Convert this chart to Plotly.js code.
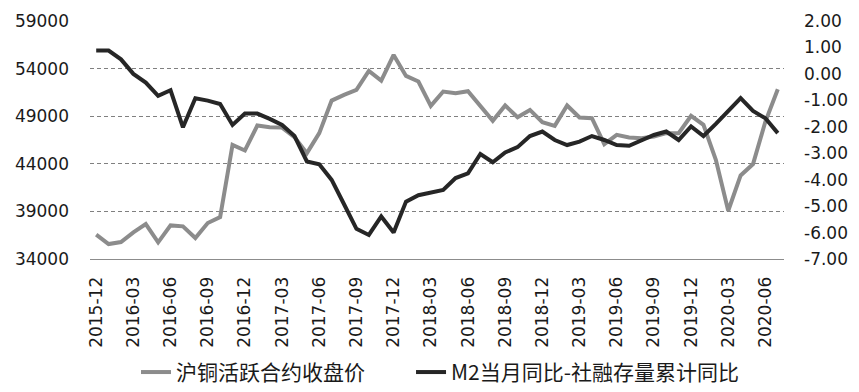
<!DOCTYPE html>
<html>
<head>
<meta charset="utf-8">
<script src="https://cdn.plot.ly/plotly-3.0.1.min.js"></script>
<style>html,body{margin:0;padding:0;background:#fff;}#chart{width:859px;height:392px;}</style>
</head>
<body>
<div id="chart"></div>
<script>
const months = [
  "2015-12",
  "2016-01","2016-02","2016-03","2016-04","2016-05","2016-06","2016-07","2016-08","2016-09","2016-10","2016-11","2016-12",
  "2017-01","2017-02","2017-03","2017-04","2017-05","2017-06","2017-07","2017-08","2017-09","2017-10","2017-11","2017-12",
  "2018-01","2018-02","2018-03","2018-04","2018-05","2018-06","2018-07","2018-08","2018-09","2018-10","2018-11","2018-12",
  "2019-01","2019-02","2019-03","2019-04","2019-05","2019-06","2019-07","2019-08","2019-09","2019-10","2019-11","2019-12",
  "2020-01","2020-02","2020-03","2020-04","2020-05","2020-06","2020-07"
];
const copperClose = [
  36550,35570,35780,36800,37670,35750,37530,37430,36200,37780,38400,45990,45400,
  48020,47850,47800,46800,45120,47220,50640,51240,51760,53760,52740,55430,
  53230,52640,50080,51590,51410,51620,50010,48510,50120,48900,49660,48370,
  47990,50120,48860,48790,46060,47040,46760,46690,46870,47220,47220,49040,
  48090,44420,39070,42780,43970,48440,51830
];
const m2MinusTsf = [
  0.88,0.88,0.55,0.00,-0.33,-0.83,-0.62,-2.02,-0.92,-1.01,-1.14,-1.93,-1.50,
  -1.50,-1.70,-1.93,-2.35,-3.31,-3.42,-4.01,-4.93,-5.86,-6.09,-5.39,-6.00,
  -4.83,-4.59,-4.50,-4.39,-3.94,-3.76,-3.03,-3.34,-2.97,-2.77,-2.35,-2.18,
  -2.50,-2.69,-2.56,-2.35,-2.50,-2.69,-2.72,-2.52,-2.31,-2.18,-2.50,-1.99,
  -2.35,-1.89,-1.43,-0.92,-1.40,-1.68,-2.24
];
const xTickLabels = ["2015-12","2016-03","2016-06","2016-09","2016-12","2017-03","2017-06","2017-09","2017-12",
  "2018-03","2018-06","2018-09","2018-12","2019-03","2019-06","2019-09","2019-12","2020-03","2020-06"];
const leftTicks = [34000,39000,44000,49000,54000,59000];
const rightTicks = [-7,-6,-5,-4,-3,-2,-1,0,1,2];
const rightTickText = ["-7.00","-6.00","-5.00","-4.00","-3.00","-2.00","-1.00","0.00","1.00","2.00"];
const seriesNames = ["沪铜活跃合约收盘价","M2当月同比-社融存量累计同比"];

const n = months.length;
const boundaryTicks = xTickLabels.map(l => months.indexOf(l) - 0.5);

const traces = [
  {x: months, y: copperClose, type: 'scatter', mode: 'lines', name: seriesNames[0], legend: 'legend',
   line: {color: '#8c8c8c', width: 4}, xaxis: 'x', yaxis: 'y'},
  {x: months, y: m2MinusTsf, type: 'scatter', mode: 'lines', name: seriesNames[1], legend: 'legend2',
   line: {color: '#262626', width: 4}, xaxis: 'x', yaxis: 'y2'}
];

const tickFont = {family: 'DejaVu Sans', size: 17, color: '#1a1a1a'};
const legendFont = {family: 'Noto Sans CJK SC', size: 21, color: '#1a1a1a'};

const layout = {
  width: 859, height: 392,
  margin: {l: 90, r: 75, t: 21, b: 133, pad: 0},
  paper_bgcolor: '#ffffff', plot_bgcolor: '#ffffff',
  font: tickFont,
  showlegend: true,
  legend: {orientation: 'h', xref: 'container', yref: 'container', x: 0.1583, xanchor: 'left',
           y: 0.05, yanchor: 'middle', font: legendFont, bgcolor: 'rgba(0,0,0,0)'},
  legend2: {orientation: 'h', xref: 'container', yref: 'container', x: 0.4785, xanchor: 'left',
           y: 0.05, yanchor: 'middle', font: legendFont, bgcolor: 'rgba(0,0,0,0)'},
  xaxis: {type: 'category', range: [-0.5, n - 0.5], tickmode: 'array', tickvals: xTickLabels, ticktext: xTickLabels,
          tickangle: -90, ticks: '', showgrid: false, showline: true, linecolor: '#8c8c8c', linewidth: 1,
          zeroline: false, ticklabelstandoff: 10, tickfont: tickFont},
  xaxis2: {overlaying: 'x', anchor: 'y', type: 'linear', range: [-0.5, n - 0.5], tickmode: 'array',
           tickvals: boundaryTicks, ticks: 'outside', ticklen: 6, tickcolor: '#8c8c8c', tickwidth: 1,
           showticklabels: false, showgrid: false, showline: false, zeroline: false},
  yaxis: {range: [34000, 59000], tickmode: 'array', tickvals: leftTicks, ticktext: leftTicks.map(String),
          showgrid: true, gridcolor: '#808080', griddash: '4px,3px', gridwidth: 1, ticks: '',
          showline: false, zeroline: false, ticklabelstandoff: 20, tickfont: tickFont},
  yaxis2: {overlaying: 'y', side: 'right', anchor: 'x', range: [-7, 2], tickmode: 'array', tickvals: rightTicks,
           ticktext: rightTickText, showgrid: false, zeroline: false, showline: false, ticks: '',
           ticklabelstandoff: 19, tickfont: tickFont}
};

Plotly.newPlot('chart', traces, layout, {staticPlot: true, displayModeBar: false});
</script>
</body>
</html>
